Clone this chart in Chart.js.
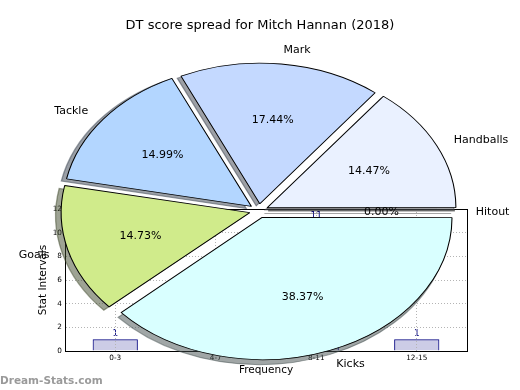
<!DOCTYPE html>
<html>
<head>
<meta charset="utf-8">
<script src="https://cdn.jsdelivr.net/npm/chart.js@4.4.1/dist/chart.umd.min.js"></script>
<style>
  html, body { margin: 0; padding: 0; background: #fff; }
  #wrap { position: relative; width: 520px; height: 390px; }
  #wrap canvas { position: absolute; left: 0; top: 0; }
</style>
</head>
<body>
<div id="wrap">
  <canvas id="bars" width="520" height="390"></canvas>
  <canvas id="pie" width="520" height="390"></canvas>
</div>
<script>
// ─── Data ─────────────────────────────────────────────────────────
const TITLE        = 'DT score spread for Mitch Hannan (2018)';
const STATS        = ['Handballs', 'Mark', 'Tackle', 'Goals', 'Kicks', 'Hitout'];
const SHARE        = [14.47, 17.44, 14.99, 14.73, 38.37, 0];
const SLICE_COLORS = ['#eaf1ff', '#c4d9ff', '#b3d6ff', '#d0eb8b', '#d9ffff', '#ffffff'];
const INTERVALS    = ['0-3', '4-7', '8-11', '12-15'];
const FREQ         = [1, 5, 11, 1];

const FONT   = "'DejaVu Sans', sans-serif";
const SX     = 1.334;          // pie gets stretched to the axes aspect, like matplotlib
const PIE_R  = 140;
const SHADOW = [-2.8, 2.8];    // shadow offset in unstretched px
const rev    = a => a.slice().reverse();   // matplotlib goes ccw from east, chart.js cw

// ─── Helpers ──────────────────────────────────────────────────────
function shade(hex) {
  const n = parseInt(hex.slice(1), 16);
  const r = (n >> 16) & 255, g = (n >> 8) & 255, b = n & 255;
  return `rgba(${Math.round(r * .3)},${Math.round(g * .3)},${Math.round(b * .3)},0.5)`;
}

// same translation / radius the ArcElement uses when it draws with an offset
function arcGeom(a) {
  const off  = (a.options.offset || 0) / 4;
  const circ = a.endAngle - a.startAngle;
  const ro   = circ > 0 ? off * (1 - Math.sin(Math.min(Math.PI, circ))) : 0;
  const half = (a.startAngle + a.endAngle) / 2;
  return {
    x: a.x + Math.cos(half) * (off + ro),
    y: a.y + Math.sin(half) * (off + ro),
    r: a.outerRadius + ro,
  };
}

// ─── Pie plugins ──────────────────────────────────────────────────
const stretch = {
  id: 'stretch',
  beforeDatasetsDraw(chart) {
    const ctx  = chart.ctx;
    const arcs = chart.getDatasetMeta(0).data;
    const cols = chart.data.datasets[0].backgroundColor;
    const { x, y } = arcs[0];
    ctx.save();
    ctx.translate(x, y); ctx.scale(SX, 1); ctx.translate(-x, -y);

    arcs.forEach((a, i) => {
      const p = arcGeom(a);
      ctx.save();
      ctx.translate(SHADOW[0], SHADOW[1]);
      ctx.beginPath();
      ctx.moveTo(p.x, p.y);
      if (a.endAngle > a.startAngle) ctx.arc(p.x, p.y, p.r, a.startAngle, a.endAngle);
      else ctx.lineTo(p.x + Math.cos(a.startAngle) * p.r, p.y + Math.sin(a.startAngle) * p.r);
      ctx.closePath();
      ctx.fillStyle = ctx.strokeStyle = shade(cols[i]);
      ctx.lineWidth = 1;
      ctx.fill(); ctx.stroke();
      ctx.restore();
    });
  },
  afterDatasetsDraw(chart) {
    const ctx = chart.ctx;
    // zero slices are skipped by chart.js, matplotlib still draws their edge
    chart.getDatasetMeta(0).data.forEach(a => {
      if (a.endAngle > a.startAngle) return;
      const p = arcGeom(a);
      ctx.beginPath();
      ctx.moveTo(p.x, p.y);
      ctx.lineTo(p.x + Math.cos(a.startAngle) * p.r, p.y + Math.sin(a.startAngle) * p.r);
      ctx.strokeStyle = '#000'; ctx.lineWidth = 0.8;
      ctx.stroke();
    });
    ctx.restore();
  },
};

const pieText = {
  id: 'pieText',
  afterDraw(chart) {
    const ctx    = chart.ctx;
    const arcs   = chart.getDatasetMeta(0).data;
    const labels = chart.data.labels;
    const vals   = chart.data.datasets[0].data;
    const total  = vals.reduce((s, v) => s + v, 0);
    ctx.save();
    ctx.fillStyle = '#000';
    ctx.textBaseline = 'middle';
    ctx.font = `11px ${FONT}`;
    arcs.forEach((a, i) => {
      const mid = (a.startAngle + a.endAngle) / 2;
      const ex  = (a.options.offset || 0) / 4;
      const r   = a.outerRadius + 1.5;
      const at  = k => [a.x + Math.cos(mid) * (r * k + ex) * SX,
                        a.y + Math.sin(mid) * (r * k + ex) + 1];
      let [px, py] = at(0.6);
      ctx.textAlign = 'center';
      ctx.fillText((vals[i] / total * 100).toFixed(2) + '%', px, py);
      [px, py] = at(1.1);
      ctx.textAlign = Math.cos(mid) >= 0 ? 'left' : 'right';
      ctx.fillText(labels[i], px, py);
    });

    ctx.textAlign = 'center';
    ctx.font = `13px ${FONT}`;
    ctx.fillText(TITLE, 260, 26);

    ctx.textAlign = 'left';
    ctx.font = `bold 10.5px ${FONT}`;
    ctx.fillStyle = '#9a9a9a';
    ctx.fillText('Dream-Stats.com', 0, 381);
    ctx.restore();
  },
};

// ─── Bar plugins ──────────────────────────────────────────────────
const frame = {
  id: 'frame',
  afterDraw(chart) {
    const { ctx, chartArea: c } = chart;
    ctx.save();
    ctx.strokeStyle = '#000'; ctx.lineWidth = 1;
    ctx.strokeRect(c.left + .5, c.top + .5, c.right - c.left, c.bottom - c.top);
    ctx.restore();
  },
};

const barValues = {
  id: 'barValues',
  afterDatasetsDraw(chart) {
    const ctx = chart.ctx;
    ctx.save();
    ctx.fillStyle = '#000080';
    ctx.font = `9px ${FONT}`;
    ctx.textAlign = 'center';
    ctx.textBaseline = 'bottom';
    chart.getDatasetMeta(0).data.forEach((b, i) => ctx.fillText(String(FREQ[i]), b.x, b.y - 1));
    ctx.restore();
  },
};

// ─── Charts ───────────────────────────────────────────────────────
const tickFont   = { family: FONT, size: 7.3 };
const gridOpts   = { color: '#b4b4b4', lineWidth: 1, drawTicks: false, z: 1 };
const borderOpts = { color: '#000', dash: [1, 2], z: 1 };

new Chart(document.getElementById('bars'), {
  type: 'bar',
  data: {
    labels: INTERVALS,
    datasets: [{
      data: FREQ,
      backgroundColor: 'rgba(0,0,128,0.2)',
      borderColor: '#000080',
      borderWidth: 1,
      barPercentage: 0.45,
      categoryPercentage: 1,
    }],
  },
  options: {
    responsive: false, animation: false, events: [], devicePixelRatio: 1,
    layout: { padding: { left: 0, top: 209, right: 53, bottom: 0 } },
    plugins: { legend: { display: false }, tooltip: { enabled: false } },
    scales: {
      x: {
        grid: { ...gridOpts, offset: false },
        border: borderOpts,
        ticks: { font: tickFont, color: '#000', padding: 3, maxRotation: 0 },
        title: { display: true, text: 'Frequency', color: '#000', font: { family: FONT, size: 10.5 }, padding: { top: 0, bottom: 13.7 } },
        afterFit: s => { s.height = 39; },
      },
      y: {
        min: 0, max: 12,
        grid: { ...gridOpts },
        border: borderOpts,
        ticks: { stepSize: 2, font: tickFont, color: '#000', padding: 3 },
        title: { display: true, text: 'Stat Intervals', color: '#000', font: { family: FONT, size: 10.5 }, padding: { top: 36.7, bottom: 0 } },
        afterFit: s => { s.width = 65; },
      },
    },
  },
  plugins: [barValues, frame],
});

new Chart(document.getElementById('pie'), {
  type: 'pie',
  data: {
    labels: rev(STATS),
    datasets: [{
      data: rev(SHARE),
      backgroundColor: rev(SLICE_COLORS),
      borderColor: '#000',
      borderWidth: 0.8,
      offset: 28,
    }],
  },
  options: {
    responsive: false, animation: false, events: [], devicePixelRatio: 1,
    rotation: 90,
    radius: PIE_R,
    layout: { padding: { left: 0, right: 2.4, top: 31.6, bottom: 0 } },
    plugins: { legend: { display: false }, tooltip: { enabled: false } },
  },
  plugins: [stretch, pieText],
});
</script>
</body>
</html>
